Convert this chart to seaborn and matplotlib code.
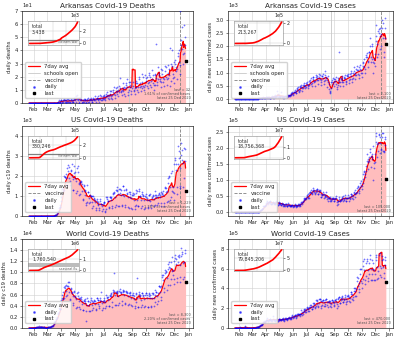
import numpy as np
import pandas as pd
import matplotlib
matplotlib.use("Agg")
import matplotlib.pyplot as plt
import matplotlib.dates as mdates
from matplotlib.ticker import MultipleLocator
from matplotlib.lines import Line2D
import seaborn as sns

# daily reported counts, 22 Jan 2020 .. 25 Dec 2020 (one row per week, Wed..Tue)
AR_DEATHS = [
    0, 0, 0, 0, 0, 0, 0,  0, 0, 0, 0, 0, 0, 0,  0, 0, 0, 0, 0, 0, 0,  0, 0, 0, 0, 0, 0, 0,
    0, 0, 0, 0, 0, 0, 0,  0, 0, 0, 0, 0, 0, 0,  0, 0, 0, 0, 0, 0, 0,  0, 0, 0, 0, 0, 0, 0,
    0, 0, 0, 0, 0, 0, 1,
    1, 0, 2, 1, 0, 1, 2,
    2, 1, 0, 2, 1, 3, 2,
    2, 1, 2, 1, 0, 1, 3,
    1, 3, 1, 2, 1, 0, 2,
    3, 2, 1, 1, 2, 1, 3,
    4, 3, 2, 5, 1, 3, 6,
    3, 2, 4, 1, 0, 2, 4,
    2, 3, 1, 0, 2, 1, 3,
    1, 3, 2, 2, 0, 1, 2,
    3, 1, 4, 2, 1, 2, 3,
    2, 4, 2, 1, 1, 3, 4,
    3, 2, 5, 2, 1, 3, 4,
    4, 3, 2, 5, 1, 3, 6,
    3, 5, 2, 4, 2, 3, 5,
    6, 3, 5, 2, 4, 5, 7,
    5, 8, 4, 6, 3, 5, 9,
    7, 5, 9, 4, 3, 6, 8,
    10, 7, 12, 6, 4, 8, 11,
    12, 9, 7, 10, 5, 8, 13,
    11, 19, 8, 9, 6, 10, 15,
    11, 9, 12, 7, 5, 11, 14,
    15, 12, 18, 8, 6, 10, 16,
    16, 12, 14, 9, 7, 11, 110,
    13, 16, 10, 9, 7, 11, 15,
    17, 12, 15, 10, 8, 12, 20,
    18, 15, 12, 13, 9, 11, 22,
    16, 20, 13, 12, 10, 14, 21,
    19, 17, 20, 13, 11, 15, 23,
    21, 16, 20, 14, 12, 17, 25,
    18, 21, 15, 14, 10, 14, 21,
    22, 19, 45, 16, 14, 18, 27,
    23, 21, 18, 17, 12, 16, 26,
    25, 22, 19, 16, 13, 18, 28,
    24, 27, 20, 18, 14, 19, 29,
    23, 26, 21, 42, 13, 17, 30,
    28, 40, 22, 19, 15, 20, 31,
    30, 33, 27, 24, 18, 26, 38,
    36, 40, 31, 29, 22, 70, 44,
    48, 58, 41, 37, 30, 38, 59,
    50, 44, 32,
]

AR_CASES = [
    0, 0, 0, 0, 0, 0, 0,  0, 0, 0, 0, 0, 0, 0,  0, 0, 0, 0, 0, 0, 0,  0, 0, 0, 0, 0, 0, 0,
    0, 0, 0, 0, 0, 0, 0,  0, 0, 0, 0, 0, 0, 0,  0, 0, 0, 0, 0, 0, 0,
    1, 5, 3, 3, 10, 11, 11,
    24, 15, 22, 26, 25, 36, 43,
    62, 28, 32, 27, 19, 30, 50,
    64, 34, 67, 41, 44, 59, 35,
    58, 43, 27, 40, 45, 66, 52,
    90, 40, 70, 120, 35, 50, 80,
    150, 105, 70, 110, 280, 190, 62,
    80, 95, 120, 60, 50, 90, 260,
    85, 60, 75, 45, 70, 40, 90,
    115, 90, 100, 70, 55, 80, 130,
    120, 140, 155, 100, 90, 135, 160,
    200, 185, 260, 230, 150, 180, 250,
    270, 240, 320, 290, 210, 230, 360,
    400, 350, 440, 310, 260, 330, 480,
    430, 520, 460, 390, 300, 410, 540,
    480, 520, 610, 500, 390, 450, 600,
    560, 620, 540, 470, 400, 520, 680,
    700, 650, 780, 560, 480, 600, 820,
    760, 810, 690, 620, 500, 680, 900,
    840, 780, 870, 700, 560, 720, 950,
    820, 760, 900, 650, 520, 700, 880,
    850, 800, 950, 680, 560, 720, 1050,
    900, 780, 820, 700, 450, 640, 860,
    560, 380, 300, 250, 220, 400, 620,
    700, 650, 780, 560, 480, 620, 740,
    760, 680, 820, 580, 450, 380, 540,
    720, 800, 650, 1780, 480, 620, 780,
    760, 850, 700, 620, 500, 650, 800,
    820, 780, 900, 650, 560, 690, 880,
    900, 850, 960, 700, 600, 750, 950,
    1000, 880, 1050, 760, 620, 780, 980,
    1050, 1200, 1000, 920, 750, 900, 1150,
    1100, 1250, 1080, 960, 800, 920, 1200,
    1150, 1300, 1100, 980, 820, 1000, 1250,
    1400, 1350, 1500, 1200, 1000, 1150, 1600,
    1650, 1750, 1600, 1450, 1200, 1400, 1800,
    1800, 2300, 2000, 1600, 1400, 1500, 2100,
    2000, 1000, 1400, 1500, 1350, 1250, 1700,
    2800, 2200, 2400, 2100, 1600, 1700, 2600,
    2650, 2500, 2700, 2400, 1900, 2000, 2482,
    3000, 2700, 2900, 2300, 1800, 1600, 3100,
    2700, 2300, 2100,
]

US_DEATHS = [
    0, 0, 0, 0, 0, 0, 0,  0, 0, 0, 0, 0, 0, 0,  0, 0, 0, 0, 0, 0, 0,  0, 0, 0, 0, 0, 0, 0,
    0, 0, 0, 0, 0, 0, 0,
    0, 0, 0, 1, 0, 1, 4,
    3, 1, 2, 3, 4, 4, 5,
    8, 7, 10, 10, 12, 19, 26,
    41, 51, 54, 62, 98, 139, 209,
    263, 274, 380, 466, 462, 532, 776,
    960, 1093, 1361, 1380, 1232, 1313, 2001,
    1955, 1926, 2092, 1894, 1542, 1571, 2408,
    2571, 2245, 2473, 1882, 1757, 1560, 2301,
    2233, 2012, 2587, 1846, 1308, 1284, 2155,
    2495, 2209, 1893, 1732, 1175, 1232, 2386,
    2487, 2185, 1656, 1607, 1036, 1082, 1679,
    1750, 1704, 1624, 1235, 856, 791, 1557,
    1510, 1285, 1244, 1068, 641, 533, 694,
    1545, 1208, 1209, 916, 656, 710, 1043,
    1020, 998, 987, 720, 416, 527, 1024,
    919, 850, 797, 706, 319, 404, 847,
    728, 688, 625, 574, 284, 386, 876,
    737, 628, 613, 507, 264, 336, 603,
    695, 679, 638, 265, 210, 353, 935,
    844, 961, 775, 728, 462, 421, 934,
    975, 959, 890, 811, 486, 420, 1091,
    1141, 1134, 1178, 936, 451, 548, 1295,
    1459, 1245, 1316, 1078, 528, 484, 1336,
    1363, 1153, 1285, 1064, 563, 512, 1501,
    1505, 1056, 1284, 1004, 570, 446, 1355,
    1307, 1133, 1089, 973, 431, 417, 1217,
    1225, 1121, 962, 890, 401, 370, 1028,
    1175, 1075, 1107, 807, 501, 374, 551,
    1309, 1144, 1240, 826, 505, 510, 1354,
    1236, 1020, 1021, 785, 413, 491, 1109,
    1204, 1013, 1030, 817, 372, 409, 981,
    1125, 954, 920, 786, 473, 418, 784,
    1074, 1040, 1077, 765, 560, 420, 912,
    930, 1057, 1004, 839, 498, 564, 1033,
    1266, 948, 1045, 929, 531, 634, 1074,
    1102, 1164, 1061, 970, 527, 650, 1225,
    1107, 1135, 1238, 1033, 479, 668, 1448,
    1411, 1177, 1378, 1263, 692, 761, 1658,
    1922, 2009, 1958, 1437, 822, 934, 2170,
    2274, 1257, 1430, 1193, 822, 1172, 2597,
    2804, 2914, 2607, 2278, 1126, 1431, 2577,
    3507, 3271, 2896, 2419, 1413, 1489, 3027,
    3656, 3309, 2814, 2667, 1443, 1898, 3401,
    3359, 2757, 1229,
]

US_CASES = [
    1, 0, 1, 0, 2, 0, 0,
    1, 0, 1, 2, 1, 0, 0,
    1, 0, 0, 0, 1, 0, 0,
    0, 0, 0, 1, 0, 1, 0,
    0, 0, 1, 0, 0, 0, 1,
    0, 1, 0, 8, 6, 23, 20,
    30, 70, 100, 120, 110, 220, 300,
    440, 500, 700, 950, 950, 1800, 1300,
    4800, 5500, 6700, 7100, 9300, 10500, 10500,
    13000, 18000, 19000, 19500, 19000, 21000, 24000,
    26000, 29000, 32000, 34000, 25000, 29000, 31000,
    33000, 34000, 36000, 30000, 27000, 25000, 26000,
    29000, 31000, 33000, 29000, 27000, 25000, 26000,
    29000, 32000, 35000, 33000, 27000, 22000, 24000,
    26000, 30000, 33000, 29000, 25000, 23000, 23000,
    25000, 28000, 26000, 25000, 19000, 20000, 22000,
    21000, 27000, 25000, 25000, 19000, 21000, 21000,
    23000, 28000, 24000, 22000, 20000, 18000, 19000,
    19000, 23000, 24000, 24000, 20000, 17000, 20000,
    21000, 22000, 25000, 22000, 18000, 17000, 18000,
    21000, 23000, 25000, 26000, 19000, 18000, 24000,
    26000, 28000, 32000, 33000, 26000, 31000, 34000,
    38000, 40000, 45000, 44000, 40000, 40000, 46000,
    52000, 54000, 57000, 44000, 48000, 46000, 60000,
    62000, 63000, 71000, 60000, 58000, 61000, 66000,
    68000, 77000, 71000, 64000, 61000, 58000, 64000,
    70000, 74000, 73000, 66000, 56000, 56000, 64000,
    68000, 67000, 68000, 57000, 48000, 47000, 53000,
    55000, 58000, 62000, 56000, 46000, 48000, 52000,
    54000, 52000, 63000, 49000, 42000, 35000, 45000,
    46000, 45000, 48000, 42000, 35000, 38000, 36000,
    42000, 45000, 46000, 43000, 34000, 36000, 42000,
    40000, 44000, 51000, 43000, 31000, 24000, 26000,
    34000, 36000, 47000, 41000, 34000, 36000, 39000,
    39000, 45000, 49000, 42000, 36000, 52000, 40000,
    39000, 45000, 55000, 45000, 34000, 35000, 43000,
    44000, 46000, 54000, 49000, 35000, 41000, 44000,
    50000, 58000, 58000, 54000, 46000, 42000, 51000,
    59000, 64000, 69000, 57000, 48000, 59000, 61000,
    62000, 75000, 83000, 79000, 61000, 67000, 73000,
    80000, 90000, 99000, 84000, 74000, 82000, 92000,
    104000, 121000, 129000, 126000, 110000, 120000, 130000,
    145000, 160000, 182000, 166000, 135000, 157000, 160000,
    172000, 188000, 198000, 175000, 143000, 168000, 174000,
    183000, 102000, 206000, 153000, 139000, 158000, 183000,
    220000, 237000, 248000, 213000, 174000, 190000, 215000,
    241000, 245000, 235000, 217000, 185000, 194000, 198000,
    247000, 236000, 249000, 192000, 188000, 192000, 235805,
    230000, 210000, 105000,
]

WORLD_DEATHS = [
    17, 1, 8, 16, 14, 26, 26,
    38, 43, 46, 45, 57, 64, 66,
    72, 70, 86, 89, 97, 108, 97,
    254, 13, 143, 142, 106, 98, 139,
    115, 125, 4, 205, 159, 79, 65,
    53, 59, 64, 72, 71, 71, 88,
    85, 96, 101, 97, 228, 212, 272,
    326, 347, 439, 420, 749, 885, 1040,
    1111, 1313, 1619, 1655, 1743, 1895, 2456,
    2655, 2837, 3566, 3447, 3327, 3416, 4414,
    5032, 5300, 6000, 6500, 5200, 5400, 7300,
    7500, 7200, 7800, 6700, 5800, 6000, 7600,
    8300, 7600, 8200, 6400, 5200, 5000, 7100,
    7000, 6500, 6200, 5800, 4500, 4200, 6400,
    6700, 5700, 5500, 5200, 3600, 3700, 6200,
    6400, 5800, 5300, 4900, 3700, 3400, 5400,
    5500, 5200, 4900, 4300, 3200, 3300, 4800,
    5100, 4800, 5200, 4500, 3000, 1200, 4100,
    5300, 4800, 4900, 4100, 3000, 3000, 4600,
    5300, 5100, 4900, 4200, 3300, 3600, 4600,
    5100, 4900, 4800, 4300, 3300, 3400, 5300,
    5300, 5100, 5000, 4300, 3500, 3900, 5300,
    5000, 6400, 4800, 4500, 3300, 3600, 4900,
    5100, 5300, 4900, 4700, 3500, 4000, 6000,
    5600, 5400, 5500, 5100, 4000, 3900, 5800,
    6000, 6100, 6200, 5800, 4700, 3800, 6500,
    6800, 6700, 9800, 5900, 4100, 4100, 6400,
    6600, 6400, 6300, 5800, 4200, 4500, 6700,
    7000, 6400, 6500, 6300, 4900, 4200, 6400,
    6900, 6600, 6700, 5900, 4500, 4300, 6600,
    6500, 6400, 6300, 5700, 4100, 4300, 6200,
    6400, 6000, 6200, 5400, 4100, 3900, 6000,
    6300, 5900, 5700, 5200, 3900, 3600, 4700,
    6200, 6100, 9000, 5400, 3700, 3800, 6100,
    6400, 5900, 5800, 5100, 3700, 4100, 6300,
    6300, 6000, 5800, 5200, 3800, 3900, 5900,
    6300, 6200, 6000, 5300, 3800, 3700, 5800,
    6300, 6100, 5900, 5400, 3800, 3900, 5300,
    6300, 6100, 6200, 5400, 4000, 4600, 6000,
    6800, 6500, 6500, 5700, 4300, 4800, 6300,
    7600, 7500, 7400, 6500, 5100, 5600, 7500,
    9500, 9200, 9500, 8700, 6400, 7200, 9800,
    10500, 10000, 10300, 9000, 6900, 7700, 10600,
    11600, 11000, 11900, 10700, 7800, 8800, 11800,
    12700, 10300, 10500, 9500, 7900, 8800, 12100,
    13200, 12600, 12400, 11500, 8300, 8900, 11900,
    12900, 13100, 12700, 11300, 8200, 9100, 12900,
    14400, 13600, 13300, 11700, 8800, 9100, 11946,
    14000, 13500, 8300,
]

WORLD_CASES = [
    0, 100, 287, 493, 684, 809, 2651,
    588, 2068, 1693, 2111, 4749, 3094, 3884,
    3694, 3151, 3385, 2652, 3070, 2484, 2022,
    2000, 15100, 5100, 2600, 2100, 2000, 1900,
    540, 560, 1010, 1000, 620, 570, 860,
    930, 1210, 1340, 1880, 1840, 2250, 1990,
    2250, 2590, 2750, 3900, 3780, 4000, 4200,
    6800, 7700, 10300, 10900, 11700, 13900, 14500,
    18700, 25100, 32500, 31000, 34000, 40000, 42000,
    50000, 62000, 62000, 65000, 58000, 60000, 76000,
    75000, 84000, 81000, 98000, 74000, 70000, 76000,
    83000, 87000, 95000, 84000, 77000, 72000, 71000,
    84000, 91000, 116000, 81000, 77000, 74000, 70000,
    77000, 81000, 92000, 88000, 81000, 71000, 70000,
    76000, 88000, 86000, 90000, 77000, 77000, 80000,
    90000, 92000, 97000, 92000, 78000, 75000, 85000,
    89000, 97000, 99000, 95000, 80000, 88000, 91000,
    101000, 105000, 109000, 104000, 99000, 88000, 88000,
    104000, 114000, 127000, 122000, 109000, 100000, 107000,
    120000, 127000, 130000, 130000, 107000, 105000, 118000,
    138000, 136000, 142000, 136000, 131000, 120000, 144000,
    142000, 140000, 180000, 162000, 131000, 138000, 163000,
    173000, 182000, 194000, 188000, 163000, 164000, 177000,
    205000, 210000, 201000, 196000, 170000, 174000, 211000,
    214000, 228000, 236000, 215000, 190000, 189000, 210000,
    226000, 249000, 255000, 245000, 214000, 205000, 224000,
    282000, 284000, 277000, 246000, 221000, 207000, 249000,
    289000, 292000, 291000, 269000, 226000, 206000, 229000,
    275000, 284000, 287000, 264000, 222000, 218000, 246000,
    285000, 292000, 293000, 261000, 233000, 208000, 259000,
    277000, 268000, 271000, 256000, 219000, 211000, 244000,
    281000, 285000, 277000, 265000, 226000, 232000, 254000,
    285000, 287000, 297000, 265000, 242000, 200000, 222000,
    288000, 303000, 318000, 310000, 252000, 251000, 287000,
    303000, 318000, 325000, 291000, 266000, 259000, 282000,
    289000, 316000, 336000, 294000, 262000, 246000, 277000,
    319000, 321000, 331000, 314000, 274000, 258000, 301000,
    345000, 363000, 362000, 345000, 290000, 287000, 317000,
    377000, 407000, 408000, 377000, 320000, 327000, 391000,
    478000, 515000, 508000, 426000, 368000, 397000, 452000,
    548000, 598000, 596000, 476000, 408000, 457000, 494000,
    626000, 673000, 701000, 591000, 483000, 447000, 528000,
    660000, 680000, 696000, 584000, 501000, 478000, 547000,
    660000, 702000, 734000, 599000, 490000, 487000, 549000,
    683000, 598000, 653000, 585000, 482000, 484000, 548000,
    690000, 723000, 743000, 618000, 498000, 510000, 574000,
    734000, 1573000, 763000, 627000, 541000, 515000, 610000,
    728000, 690000, 700000, 615000, 505000, 560000, 640000,
    718567, 690000, 470000,
]

TOTALS = {"ar_d": 3438, "ar_c": 213267, "us_d": 330246,
          "us_c": 18756368, "w_d": 1760540, "w_c": 79845206}

dates = pd.date_range("2020-01-22", "2020-12-25", freq="D")
SERIES = {"ar_d": AR_DEATHS, "ar_c": AR_CASES, "us_d": US_DEATHS,
          "us_c": US_CASES, "w_d": WORLD_DEATHS, "w_c": WORLD_CASES}
for name, arr in SERIES.items():
    if len(arr) != len(dates):
        raise ValueError(f"{name} has {len(arr)} values, expected {len(dates)}")
    if sum(arr) != TOTALS[name]:
        raise ValueError(f"{name} sums to {sum(arr)}, total says {TOTALS[name]}")

sns.set_style("ticks")
plt.rcParams["font.family"] = ["DejaVu Sans"]
plt.rcParams.update({
    "axes.linewidth": 0.5,
    "xtick.major.width": 0.4, "ytick.major.width": 0.4,
    "xtick.major.size": 1.8, "ytick.major.size": 1.8,
    "xtick.major.pad": 1.2, "ytick.major.pad": 1.2,
    "xtick.labelsize": 3.8, "ytick.labelsize": 3.8,
    "grid.color": "#d0d0d0", "grid.linewidth": 0.4,
})

SCHOOLS = pd.Timestamp("2020-08-24")
VACCINE = pd.Timestamp("2020-12-14")
LATEST = "latest 25 Dec 2020"

panels = [
    dict(key="ar_d", title="Arkansas Covid-19 Deaths", ylabel="daily deaths",
         ylim=(0, 70), schools=True, vaccine=True, ref=("Vietnam War", 592, None), cases="ar_c",
         inset_step=2000, rect=(0.055, 0.700, 0.4275, 0.268)),
    dict(key="ar_c", title="Arkansas Covid-19 Cases", ylabel="daily new confirmed cases",
         ylim=(-160, 3350), schools=True, vaccine=True, ref=None, cases=None,
         inset_step=200000, rect=(0.570, 0.700, 0.4125, 0.268)),
    dict(key="us_d", title="US Covid-19 Deaths", ylabel="daily c19 deaths",
         ylim=(0, 4500), schools=False, vaccine=True, ref=("Vietnam War", 58220, None), cases="us_c",
         inset_step=200000, rect=(0.055, 0.370, 0.4275, 0.263)),
    dict(key="us_c", title="US Covid-19 Cases", ylabel="daily new confirmed cases",
         ylim=(-12000, 270000), schools=False, vaccine=True, ref=None, cases=None,
         inset_step=10000000, rect=(0.570, 0.370, 0.4125, 0.263)),
    dict(key="w_d", title="World Covid-19 Deaths", ylabel="daily c19 deaths",
         ylim=(0, 16000), schools=False, vaccine=False, ref=("seasonal flu", 290000, 650000), cases="w_c",
         inset_step=1000000, rect=(0.055, 0.044, 0.4275, 0.259)),
    dict(key="w_c", title="World Covid-19 Cases", ylabel="daily new confirmed cases",
         ylim=(0, 900000), schools=False, vaccine=False, ref=None, cases=None,
         inset_step=50000000, rect=(0.570, 0.044, 0.4125, 0.259)),
]

fig = plt.figure(figsize=(4.0, 3.43), dpi=100)
fig.patch.set_facecolor("white")

for p in panels:
    daily = SERIES[p["key"]]
    ax = fig.add_axes(p["rect"])
    s = pd.Series(daily, index=dates, dtype=float)
    avg = s.rolling(7, min_periods=1).mean()
    df = pd.DataFrame({"date": dates, "daily": s.values, "avg": avg.values})

    ax.fill_between(df["date"], 0, df["avg"], color=(1.0, 0.74, 0.74), lw=0, zorder=1)
    sns.lineplot(data=df, x="date", y="avg", ax=ax, color="red", lw=0.9, zorder=3, legend=False)
    handles = [Line2D([], [], color="red", lw=0.9, label="7day avg")]
    if p["schools"]:
        ax.axvline(SCHOOLS, color="#c8c8c8", lw=0.6, zorder=2)
        handles.append(Line2D([], [], color="#c8c8c8", lw=0.6, label="schools open"))
    if p["vaccine"]:
        ax.axvline(VACCINE, color="gray", lw=0.6, ls="--", zorder=2)
        handles.append(Line2D([], [], color="gray", lw=0.6, ls="--", label="vaccine"))
    sns.scatterplot(data=df, x="date", y="daily", ax=ax, s=1.6, color="blue", alpha=0.55,
                    linewidth=0, zorder=4, legend=False)
    ax.scatter([dates[-1]], [daily[-1]], marker="s", s=2.5, color="black", zorder=5)
    handles.append(Line2D([], [], color="blue", alpha=0.55, marker=".", ls="", ms=2, label="daily"))
    handles.append(Line2D([], [], color="black", marker="s", ls="", ms=1.6, label="last"))

    ax.set_xlim(pd.Timestamp("2020-01-07"), pd.Timestamp("2021-01-10"))
    ax.set_ylim(*p["ylim"])
    ax.xaxis.set_major_locator(mdates.MonthLocator())
    ax.xaxis.set_major_formatter(mdates.DateFormatter("%b"))
    ax.ticklabel_format(axis="y", style="sci", scilimits=(0, 0))
    ax.yaxis.get_offset_text().set_fontsize(3.8)
    ax.grid(True, zorder=0)
    ax.set_axisbelow(True)
    ax.set_xlabel("")
    ax.set_ylabel(p["ylabel"], fontsize=3.8, labelpad=1.5)
    ax.set_title(p["title"], fontsize=5.2, pad=2.5)

    ax.legend(handles=handles, loc="lower left", bbox_to_anchor=(0.005, 0.02), fontsize=3.8,
              handlelength=2.4, borderpad=0.4, labelspacing=0.35, framealpha=0.85,
              edgecolor="#cccccc", fancybox=True)

    last = daily[-1]
    if p["cases"]:
        cfr = 100.0 * TOTALS[p["key"]] / TOTALS[p["cases"]]
        note = f"last = {last:,}\n{cfr:.2f}% of confirmed cases\n{LATEST}"
    else:
        note = f"last = {last:,}\n{LATEST}"
    ax.text(0.985, 0.03, note, transform=ax.transAxes, ha="right", va="bottom",
            fontsize=2.5, color="#505050", linespacing=1.1, zorder=6)

    # cumulative total inset
    ins = ax.inset_axes([0.035, 0.635, 0.30, 0.255])
    ins.set_facecolor("white")
    cum = s.cumsum()
    if p["ref"]:
        label, lo, hi = p["ref"]
        if hi is None:
            ins.axhline(lo, color="gray", lw=0.9, zorder=1)
        else:
            ins.axhspan(lo, hi, color="#bdbdbd", lw=0, zorder=1)
        ins.text(0.97, lo, label, transform=ins.get_yaxis_transform(), ha="right", va="top",
                 fontsize=2.2, color="#606060", zorder=2)
    sns.lineplot(x=dates, y=cum.values, ax=ins, color="red", lw=1.2, zorder=3, legend=False)
    ins.set_xlim(dates[0] - pd.Timedelta(days=12), dates[-1] + pd.Timedelta(days=12))
    ins.yaxis.tick_right()
    ins.yaxis.set_major_locator(MultipleLocator(p["inset_step"]))
    ins.ticklabel_format(axis="y", style="sci", scilimits=(0, 0))
    ins.yaxis.set_offset_position("right")
    ins.yaxis.get_offset_text().set_fontsize(3.4)
    ins.tick_params(axis="y", labelsize=3.4, length=1.2, pad=1)
    ins.tick_params(axis="x", length=0, labelbottom=False)
    ins.xaxis.set_major_locator(mdates.MonthLocator(bymonth=[4, 7, 10]))
    ins.grid(True, lw=0.35)
    ins.set_xlabel("")
    ins.set_ylabel("")
    for sp in ins.spines.values():
        sp.set_linewidth(0.4)
        sp.set_color("#888888")
    ins.text(0.08, 0.88, f"total\n{int(cum.iloc[-1]):,}", transform=ins.transAxes, ha="left",
             va="top", fontsize=3.4, color="#333333", linespacing=1.1)

fig.savefig("out.png", dpi=100, facecolor="white")
